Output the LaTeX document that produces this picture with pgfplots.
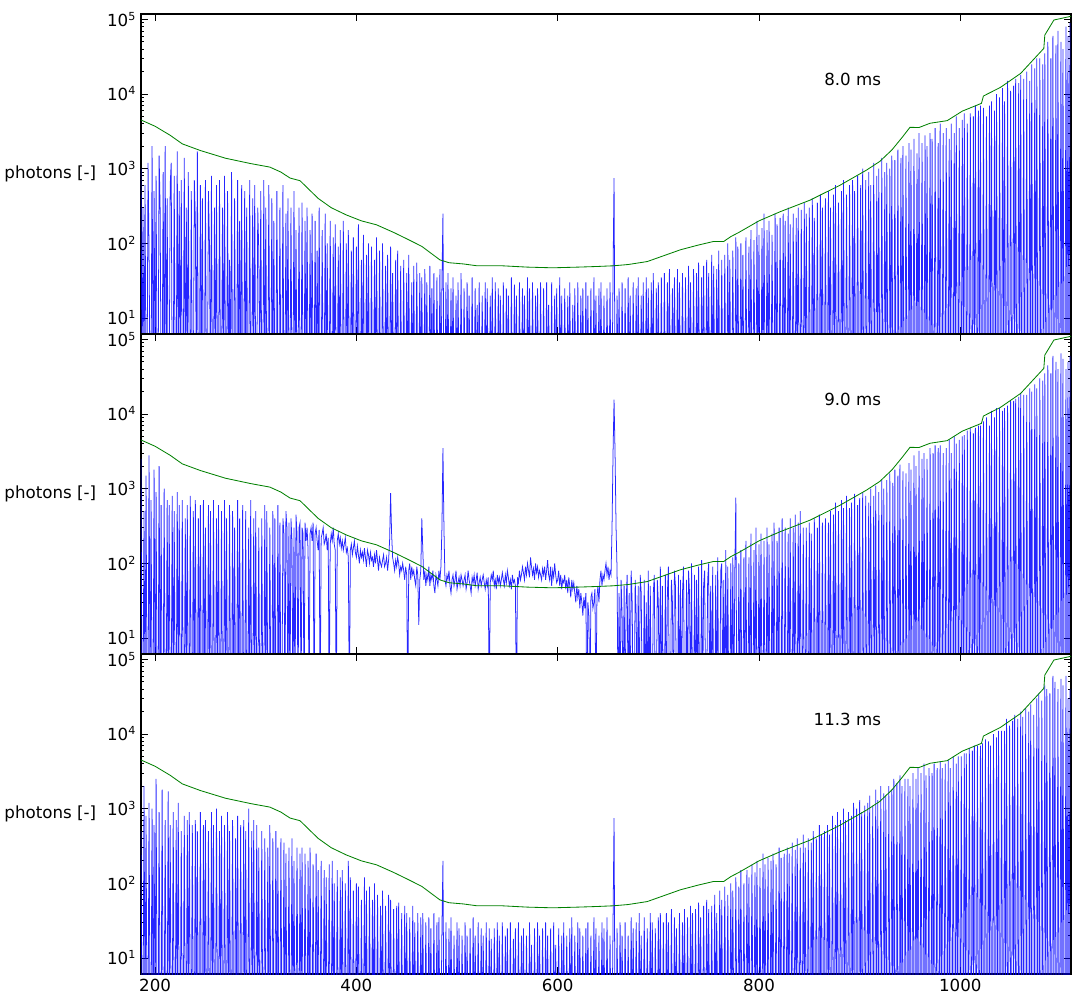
\documentclass[border=0pt]{standalone}
\usepackage{pgfplots}
\usepackage{pgfplotstable}
\pgfplotsset{compat=1.18}
\usepackage{fontspec}
\setmainfont{DejaVu Sans}

\definecolor{mgreen}{RGB}{0,128,0}

\pgfplotstableread{
x y
186 4490
200 3700
215 2800
227 2150
245 1750
270 1380
295 1170
314 1050
325 900
334 750
344 690
362 400
375 300
390 240
405 200
420 177
437 140
450 115
465 91
483 60
492 55
506 53
520 50
545 50
570 48
595 47
620 48
640 49
655 50
670 52
689 57
705 68
722 82
740 95
755 106
765 106
772 123
780 140
800 200
821 265
851 380
881 605
907 960
920 1250
932 1780
942 2600
950 3580
959 3560
970 4060
987 4400
1002 5900
1021 7500
1023 9400
1040 12300
1060 18900
1083 40900
1084 61700
1093 98000
1110 110000
}\tG

% 8.0 ms, x = 186 ... 1109 (1 nm)
\pgfplotstableread[row sep=\\]{y\\
1000\\ 1\\ 300\\ 1\\ 600\\ 1\\ 1\\ 1200\\ 80\\ 1\\ 1\\ 2000\\ 1\\ 500\\ 1\\ 800\\ 1\\ 1\\ 1500\\ 300\\
1\\ 1\\ 900\\ 1\\ 2000\\ 1\\ 400\\ 1\\ 1\\ 600\\ 1200\\ 1\\ 1\\ 800\\ 1\\ 1\\ 1700\\ 1\\ 500\\ 1\\
700\\ 1\\ 1\\ 1400\\ 1\\ 300\\ 1\\ 900\\ 1\\ 1\\ 500\\ 1\\ 1\\ 700\\ 200\\ 1\\ 1700\\ 1\\ 1\\ 600\\
1\\ 400\\ 1\\ 1\\ 700\\ 1\\ 1\\ 500\\ 100\\ 1\\ 800\\ 1\\ 1\\ 300\\ 1\\ 600\\ 1\\ 1\\ 700\\ 1\\
1\\ 300\\ 1\\ 800\\ 1\\ 1\\ 500\\ 1\\ 60\\ 1\\ 900\\ 1\\ 1\\ 400\\ 1\\ 1\\ 700\\ 1\\ 200\\ 1\\
600\\ 1\\ 1\\ 500\\ 1\\ 300\\ 1\\ 1\\ 700\\ 1\\ 1\\ 400\\ 1\\ 600\\ 1\\ 1\\ 300\\ 80\\ 1\\ 500\\
1\\ 1\\ 700\\ 1\\ 300\\ 1\\ 1\\ 600\\ 1\\ 1\\ 400\\ 1\\ 200\\ 1\\ 1\\ 500\\ 1\\ 1\\ 300\\ 1\\
1\\ 600\\ 1\\ 1\\ 250\\ 1\\ 400\\ 1\\ 1\\ 300\\ 1\\ 1\\ 500\\ 1\\ 150\\ 1\\ 1\\ 300\\ 1\\ 1\\
350\\ 1\\ 1\\ 200\\ 1\\ 300\\ 1\\ 1\\ 150\\ 1\\ 250\\ 1\\ 1\\ 200\\ 1\\ 80\\ 1\\ 300\\ 1\\ 1\\
150\\ 1\\ 1\\ 250\\ 1\\ 100\\ 1\\ 1\\ 200\\ 1\\ 1\\ 120\\ 1\\ 180\\ 1\\ 1\\ 90\\ 1\\ 150\\ 1\\
1\\ 200\\ 1\\ 1\\ 100\\ 1\\ 150\\ 1\\ 1\\ 80\\ 1\\ 120\\ 1\\ 1\\ 90\\ 1\\ 180\\ 1\\ 1\\ 60\\
1\\ 130\\ 1\\ 1\\ 70\\ 1\\ 100\\ 1\\ 1\\ 90\\ 1\\ 1\\ 60\\ 1\\ 120\\ 1\\ 1\\ 80\\ 1\\ 1\\
100\\ 1\\ 1\\ 50\\ 1\\ 70\\ 1\\ 1\\ 90\\ 1\\ 40\\ 1\\ 1\\ 60\\ 1\\ 80\\ 1\\ 1\\ 50\\ 1\\
1\\ 60\\ 1\\ 1\\ 40\\ 1\\ 70\\ 1\\ 1\\ 30\\ 1\\ 50\\ 1\\ 1\\ 55\\ 1\\ 1\\ 40\\ 1\\ 35\\
1\\ 1\\ 45\\ 1\\ 30\\ 1\\ 1\\ 50\\ 1\\ 25\\ 1\\ 40\\ 1\\ 1\\ 35\\ 1\\ 1\\ 45\\ 1\\ 30\\
250\\ 1\\ 1\\ 30\\ 1\\ 40\\ 1\\ 1\\ 25\\ 1\\ 35\\ 1\\ 1\\ 20\\ 1\\ 30\\ 1\\ 1\\ 40\\ 1\\
1\\ 25\\ 1\\ 1\\ 30\\ 1\\ 20\\ 1\\ 1\\ 35\\ 1\\ 1\\ 25\\ 1\\ 15\\ 1\\ 30\\ 1\\ 1\\ 20\\
1\\ 1\\ 30\\ 1\\ 25\\ 1\\ 1\\ 20\\ 1\\ 35\\ 1\\ 1\\ 30\\ 1\\ 1\\ 25\\ 1\\ 20\\ 1\\ 1\\
30\\ 1\\ 1\\ 25\\ 1\\ 20\\ 1\\ 1\\ 35\\ 1\\ 1\\ 28\\ 1\\ 20\\ 1\\ 1\\ 30\\ 1\\ 1\\ 25\\
1\\ 20\\ 1\\ 1\\ 35\\ 1\\ 25\\ 1\\ 1\\ 30\\ 1\\ 1\\ 20\\ 1\\ 25\\ 1\\ 1\\ 30\\ 1\\ 1\\
25\\ 1\\ 1\\ 30\\ 1\\ 15\\ 1\\ 1\\ 30\\ 1\\ 1\\ 20\\ 1\\ 25\\ 1\\ 1\\ 35\\ 1\\ 20\\ 1\\
1\\ 25\\ 1\\ 1\\ 20\\ 1\\ 30\\ 1\\ 1\\ 15\\ 1\\ 25\\ 1\\ 1\\ 30\\ 1\\ 1\\ 20\\ 1\\ 25\\
1\\ 1\\ 30\\ 1\\ 20\\ 1\\ 1\\ 25\\ 1\\ 1\\ 35\\ 1\\ 20\\ 1\\ 1\\ 25\\ 1\\ 30\\ 1\\ 1\\
20\\ 1\\ 1\\ 25\\ 1\\ 1\\ 30\\ 1\\ 1\\ 40\\ 750\\ 1\\ 1\\ 20\\ 1\\ 25\\ 1\\ 1\\ 30\\ 1\\
1\\ 25\\ 1\\ 1\\ 35\\ 1\\ 20\\ 1\\ 1\\ 30\\ 1\\ 1\\ 25\\ 1\\ 35\\ 1\\ 1\\ 20\\ 1\\ 30\\
1\\ 1\\ 35\\ 1\\ 25\\ 1\\ 1\\ 30\\ 1\\ 40\\ 1\\ 1\\ 25\\ 1\\ 30\\ 1\\ 1\\ 35\\ 1\\ 1\\
40\\ 1\\ 1\\ 30\\ 1\\ 45\\ 1\\ 1\\ 25\\ 1\\ 35\\ 1\\ 1\\ 45\\ 1\\ 30\\ 1\\ 1\\ 40\\ 1\\
1\\ 35\\ 1\\ 1\\ 50\\ 1\\ 30\\ 1\\ 1\\ 45\\ 1\\ 1\\ 40\\ 1\\ 55\\ 1\\ 1\\ 35\\ 1\\ 50\\
1\\ 1\\ 60\\ 1\\ 40\\ 1\\ 1\\ 70\\ 1\\ 50\\ 1\\ 1\\ 45\\ 1\\ 80\\ 1\\ 1\\ 60\\ 1\\ 1\\
70\\ 1\\ 1\\ 100\\ 1\\ 60\\ 1\\ 1\\ 80\\ 1\\ 1\\ 120\\ 1\\ 90\\ 1\\ 1\\ 100\\ 1\\ 70\\ 1\\
1\\ 120\\ 1\\ 1\\ 90\\ 1\\ 150\\ 1\\ 1\\ 110\\ 1\\ 1\\ 200\\ 1\\ 130\\ 1\\ 1\\ 160\\ 1\\ 250\\
1\\ 1\\ 150\\ 1\\ 200\\ 1\\ 1\\ 130\\ 1\\ 1\\ 250\\ 1\\ 180\\ 1\\ 1\\ 220\\ 1\\ 1\\ 250\\ 1\\
200\\ 1\\ 1\\ 300\\ 1\\ 180\\ 1\\ 1\\ 250\\ 1\\ 1\\ 220\\ 1\\ 300\\ 1\\ 1\\ 280\\ 1\\ 1\\ 350\\
1\\ 250\\ 1\\ 1\\ 300\\ 1\\ 1\\ 400\\ 1\\ 220\\ 1\\ 1\\ 350\\ 1\\ 1\\ 450\\ 1\\ 300\\ 1\\ 1\\
400\\ 1\\ 1\\ 500\\ 1\\ 300\\ 1\\ 1\\ 450\\ 1\\ 600\\ 1\\ 1\\ 350\\ 1\\ 1\\ 500\\ 1\\ 700\\ 1\\
1\\ 450\\ 1\\ 1\\ 600\\ 1\\ 1\\ 700\\ 1\\ 500\\ 1\\ 1\\ 800\\ 1\\ 1\\ 600\\ 1\\ 1000\\ 1\\ 1\\
700\\ 1\\ 1\\ 900\\ 1\\ 600\\ 1\\ 1\\ 1200\\ 1\\ 1\\ 800\\ 1\\ 1000\\ 1\\ 1\\ 1400\\ 1\\ 1\\ 900\\
1\\ 1200\\ 1\\ 1\\ 1000\\ 1\\ 1500\\ 1\\ 1\\ 1300\\ 1\\ 1\\ 1800\\ 1\\ 1\\ 1400\\ 1\\ 2000\\ 1\\ 1\\
1500\\ 1\\ 1\\ 2200\\ 1\\ 1800\\ 1\\ 1\\ 2500\\ 1\\ 1\\ 1600\\ 1\\ 3000\\ 1\\ 1\\ 2200\\ 1\\ 1\\ 2800\\
1\\ 2000\\ 1\\ 1\\ 3000\\ 1\\ 2500\\ 1\\ 1\\ 3500\\ 1\\ 1\\ 2200\\ 1\\ 4000\\ 1\\ 1\\ 3000\\ 1\\ 1\\
3500\\ 1\\ 1\\ 2500\\ 1\\ 4000\\ 1\\ 1\\ 3000\\ 1\\ 5000\\ 1\\ 1\\ 3500\\ 1\\ 1\\ 4500\\ 1\\ 5500\\ 1\\
1\\ 4000\\ 1\\ 1\\ 5500\\ 1\\ 1\\ 5000\\ 1\\ 7000\\ 1\\ 1\\ 6000\\ 1\\ 7000\\ 1\\ 1\\ 6500\\ 1\\ 1\\
5000\\ 1\\ 1\\ 7000\\ 1\\ 8000\\ 1\\ 1\\ 6000\\ 1\\ 10000\\ 1\\ 1\\ 9000\\ 1\\ 1\\ 12000\\ 1\\ 8000\\ 1\\
1\\ 15000\\ 1\\ 1\\ 11000\\ 1\\ 1\\ 13000\\ 1\\ 16000\\ 1\\ 1\\ 14000\\ 1\\ 18000\\ 1\\ 1\\ 16000\\ 1\\ 1\\
20000\\ 1\\ 1\\ 15000\\ 1\\ 25000\\ 1\\ 1\\ 22000\\ 1\\ 30000\\ 1\\ 1\\ 30000\\ 1\\ 1\\ 25000\\ 1\\ 35000\\ 1\\
1\\ 50000\\ 1\\ 1\\ 30000\\ 1\\ 60000\\ 1\\ 1\\ 45000\\ 1\\ 70000\\ 1\\ 1\\ 50000\\ 1\\ 40000\\ 1\\ 1\\ 80000\\
1\\ 60000\\ 1\\ 90000\\
}\tA

% 9.0 ms
\pgfplotstableread[row sep=\\]{y\\
2500\\ 1\\ 1\\ 500\\ 1\\ 1500\\ 1\\ 1\\ 2800\\ 1\\ 700\\ 1\\ 1\\ 1800\\ 1\\ 900\\ 1\\ 1\\ 2000\\ 1\\
600\\ 1\\ 1\\ 1000\\ 1\\ 1\\ 700\\ 1\\ 600\\ 1\\ 1\\ 800\\ 1\\ 500\\ 1\\ 1\\ 900\\ 1\\ 600\\ 1\\
1\\ 700\\ 1\\ 1\\ 400\\ 1\\ 600\\ 1\\ 1\\ 800\\ 1\\ 1\\ 500\\ 1\\ 700\\ 1\\ 1\\ 400\\ 1\\ 600\\
1\\ 1\\ 700\\ 1\\ 300\\ 1\\ 1\\ 600\\ 1\\ 500\\ 1\\ 1\\ 700\\ 1\\ 1\\ 400\\ 1\\ 600\\ 1\\ 1\\
500\\ 1\\ 1\\ 700\\ 1\\ 400\\ 1\\ 1\\ 600\\ 1\\ 1\\ 500\\ 1\\ 300\\ 1\\ 1\\ 700\\ 1\\ 400\\ 1\\
1\\ 600\\ 1\\ 1\\ 500\\ 1\\ 1\\ 300\\ 1\\ 700\\ 1\\ 1\\ 400\\ 1\\ 500\\ 1\\ 1\\ 300\\ 1\\ 1\\
400\\ 1\\ 1\\ 600\\ 1\\ 500\\ 1\\ 1\\ 300\\ 1\\ 1\\ 500\\ 1\\ 400\\ 1\\ 1\\ 600\\ 1\\ 350\\ 1\\
1\\ 400\\ 250\\ 1\\ 500\\ 300\\ 1\\ 350\\ 1\\ 400\\ 200\\ 1\\ 300\\ 1\\ 450\\ 250\\ 1\\ 300\\ 350\\ 1\\
300\\ 250\\ 1\\ 350\\ 200\\ 300\\ 150\\ 1\\ 250\\ 300\\ 200\\ 350\\ 1\\ 250\\ 300\\ 200\\ 150\\ 280\\ 1\\ 220\\
250\\ 300\\ 180\\ 200\\ 250\\ 150\\ 220\\ 1\\ 180\\ 250\\ 200\\ 300\\ 180\\ 150\\ 1\\ 200\\ 250\\ 180\\ 220\\ 160\\
200\\ 150\\ 180\\ 220\\ 140\\ 160\\ 120\\ 1\\ 150\\ 180\\ 130\\ 160\\ 200\\ 140\\ 120\\ 170\\ 130\\ 100\\ 150\\ 120\\
140\\ 110\\ 160\\ 120\\ 90\\ 150\\ 130\\ 100\\ 140\\ 110\\ 120\\ 90\\ 130\\ 100\\ 150\\ 110\\ 80\\ 120\\ 100\\ 90\\
110\\ 130\\ 90\\ 100\\ 120\\ 80\\ 110\\ 200\\ 870\\ 250\\ 120\\ 100\\ 80\\ 110\\ 90\\ 120\\ 100\\ 70\\ 90\\ 80\\
100\\ 80\\ 60\\ 90\\ 70\\ 1\\ 80\\ 100\\ 60\\ 90\\ 70\\ 80\\ 60\\ 50\\ 90\\ 70\\ 15\\ 60\\ 80\\ 400\\
150\\ 60\\ 80\\ 50\\ 70\\ 60\\ 90\\ 50\\ 70\\ 60\\ 80\\ 50\\ 40\\ 70\\ 60\\ 50\\ 80\\ 60\\ 90\\ 300\\
3500\\ 300\\ 60\\ 50\\ 70\\ 60\\ 80\\ 50\\ 40\\ 60\\ 70\\ 50\\ 60\\ 80\\ 45\\ 55\\ 65\\ 50\\ 70\\ 60\\
50\\ 60\\ 70\\ 45\\ 55\\ 80\\ 60\\ 50\\ 40\\ 65\\ 55\\ 70\\ 50\\ 60\\ 75\\ 45\\ 55\\ 65\\ 50\\ 60\\
70\\ 55\\ 45\\ 60\\ 50\\ 65\\ 1\\ 55\\ 70\\ 60\\ 80\\ 50\\ 60\\ 45\\ 70\\ 55\\ 65\\ 50\\ 60\\ 75\\
60\\ 50\\ 70\\ 55\\ 80\\ 65\\ 50\\ 60\\ 45\\ 70\\ 55\\ 60\\ 50\\ 1\\ 65\\ 55\\ 80\\ 60\\ 70\\ 90\\
75\\ 60\\ 90\\ 70\\ 100\\ 80\\ 65\\ 120\\ 90\\ 70\\ 85\\ 60\\ 100\\ 75\\ 90\\ 65\\ 80\\ 70\\ 60\\ 85\\
70\\ 90\\ 60\\ 80\\ 110\\ 70\\ 60\\ 90\\ 50\\ 80\\ 65\\ 100\\ 70\\ 55\\ 60\\ 80\\ 50\\ 70\\ 45\\ 60\\
55\\ 70\\ 45\\ 60\\ 40\\ 65\\ 50\\ 35\\ 60\\ 45\\ 55\\ 40\\ 30\\ 50\\ 35\\ 45\\ 25\\ 40\\ 30\\ 20\\
35\\ 25\\ 40\\ 1\\ 30\\ 20\\ 1\\ 35\\ 40\\ 25\\ 30\\ 45\\ 1\\ 35\\ 50\\ 30\\ 60\\ 80\\ 50\\ 70\\
60\\ 80\\ 100\\ 70\\ 90\\ 60\\ 80\\ 70\\ 300\\ 3000\\ 15600\\ 3000\\ 300\\ 80\\ 1\\ 40\\ 1\\ 60\\ 20\\ 1\\
50\\ 1\\ 30\\ 70\\ 1\\ 40\\ 1\\ 80\\ 30\\ 1\\ 1\\ 60\\ 20\\ 1\\ 50\\ 1\\ 70\\ 40\\ 1\\ 1\\
60\\ 1\\ 30\\ 1\\ 80\\ 1\\ 50\\ 1\\ 1\\ 40\\ 70\\ 1\\ 1\\ 60\\ 30\\ 1\\ 90\\ 1\\ 50\\ 1\\
1\\ 70\\ 1\\ 40\\ 90\\ 1\\ 1\\ 60\\ 30\\ 1\\ 80\\ 50\\ 1\\ 1\\ 70\\ 1\\ 60\\ 1\\ 40\\ 90\\
1\\ 1\\ 60\\ 1\\ 80\\ 40\\ 1\\ 100\\ 1\\ 1\\ 70\\ 1\\ 60\\ 1\\ 90\\ 1\\ 1\\ 110\\ 1\\ 50\\
80\\ 1\\ 1\\ 60\\ 100\\ 1\\ 50\\ 1\\ 90\\ 1\\ 1\\ 70\\ 1\\ 120\\ 1\\ 1\\ 80\\ 100\\ 1\\ 60\\
1\\ 150\\ 1\\ 90\\ 1\\ 1\\ 100\\ 1\\ 120\\ 1\\ 80\\ 760\\ 1\\ 1\\ 100\\ 1\\ 150\\ 1\\ 1\\ 120\\
1\\ 200\\ 1\\ 1\\ 120\\ 1\\ 250\\ 1\\ 1\\ 150\\ 1\\ 300\\ 1\\ 1\\ 180\\ 1\\ 250\\ 1\\ 1\\ 200\\
1\\ 1\\ 300\\ 1\\ 180\\ 1\\ 1\\ 250\\ 1\\ 350\\ 1\\ 1\\ 200\\ 1\\ 300\\ 1\\ 1\\ 400\\ 1\\ 1\\
300\\ 1\\ 1\\ 250\\ 1\\ 400\\ 1\\ 1\\ 300\\ 1\\ 450\\ 1\\ 1\\ 350\\ 1\\ 500\\ 1\\ 1\\ 300\\ 1\\
1\\ 300\\ 1\\ 1\\ 350\\ 1\\ 250\\ 1\\ 1\\ 400\\ 1\\ 1\\ 300\\ 1\\ 450\\ 1\\ 1\\ 350\\ 1\\ 1\\
400\\ 1\\ 1\\ 350\\ 1\\ 500\\ 1\\ 1\\ 450\\ 1\\ 650\\ 1\\ 1\\ 500\\ 1\\ 1\\ 700\\ 1\\ 550\\ 1\\
1\\ 800\\ 1\\ 1\\ 550\\ 1\\ 650\\ 1\\ 1\\ 850\\ 1\\ 1\\ 600\\ 1\\ 750\\ 1\\ 1\\ 900\\ 1\\ 1\\
800\\ 1\\ 1\\ 650\\ 1\\ 1000\\ 1\\ 1\\ 800\\ 1\\ 1100\\ 1\\ 1\\ 900\\ 1\\ 1\\ 1300\\ 1\\ 1000\\ 1\\
1\\ 1300\\ 1\\ 1\\ 1600\\ 1\\ 1\\ 1200\\ 1\\ 1800\\ 1\\ 1\\ 1500\\ 1\\ 2100\\ 1\\ 1\\ 1700\\ 1\\ 1\\
1600\\ 1\\ 1\\ 2200\\ 1\\ 1800\\ 1\\ 1\\ 2800\\ 1\\ 2000\\ 1\\ 1\\ 3200\\ 1\\ 1\\ 2500\\ 1\\ 3000\\ 1\\
1\\ 2500\\ 1\\ 1\\ 3500\\ 1\\ 1\\ 3000\\ 1\\ 3800\\ 1\\ 1\\ 3500\\ 1\\ 3800\\ 1\\ 1\\ 3000\\ 1\\ 1\\
3500\\ 1\\ 1\\ 4500\\ 1\\ 3000\\ 1\\ 1\\ 5000\\ 1\\ 4000\\ 1\\ 1\\ 4500\\ 1\\ 1\\ 5000\\ 1\\ 5200\\ 1\\
1\\ 6000\\ 1\\ 1\\ 6500\\ 1\\ 1\\ 5500\\ 1\\ 6500\\ 1\\ 1\\ 7000\\ 1\\ 7000\\ 1\\ 1\\ 8000\\ 1\\ 1\\
9000\\ 1\\ 1\\ 7000\\ 1\\ 11000\\ 1\\ 1\\ 9000\\ 1\\ 12000\\ 1\\ 1\\ 12000\\ 1\\ 1\\ 11000\\ 1\\ 12000\\ 1\\
1\\ 13000\\ 1\\ 1\\ 15000\\ 1\\ 1\\ 15000\\ 1\\ 16000\\ 1\\ 1\\ 17000\\ 1\\ 19000\\ 1\\ 1\\ 18000\\ 1\\ 1\\
18000\\ 1\\ 1\\ 22000\\ 1\\ 20000\\ 1\\ 1\\ 25000\\ 1\\ 22000\\ 1\\ 1\\ 30000\\ 1\\ 1\\ 28000\\ 1\\ 35000\\ 1\\
1\\ 45000\\ 1\\ 1\\ 35000\\ 1\\ 60000\\ 1\\ 1\\ 50000\\ 1\\ 40000\\ 1\\ 1\\ 65000\\ 1\\ 55000\\ 1\\ 1\\ 40000\\
1\\ 50000\\ 1\\ 60000\\
}\tB

% 11.3 ms
\pgfplotstableread[row sep=\\]{y\\
500\\ 1\\ 1\\ 2000\\ 1\\ 800\\ 1\\ 1\\ 1200\\ 1\\ 1\\ 1000\\ 1\\ 600\\ 1\\ 2500\\ 1\\ 1\\ 900\\ 1\\
1\\ 1800\\ 1\\ 1\\ 700\\ 1\\ 1\\ 1700\\ 1\\ 600\\ 1\\ 1\\ 900\\ 1\\ 1\\ 700\\ 1\\ 1200\\ 1\\ 1\\
500\\ 1\\ 1\\ 800\\ 1\\ 1\\ 700\\ 1\\ 900\\ 1\\ 1\\ 600\\ 1\\ 1\\ 700\\ 1\\ 500\\ 1\\ 1\\ 900\\
1\\ 1\\ 600\\ 1\\ 700\\ 1\\ 1\\ 500\\ 1\\ 1\\ 900\\ 1\\ 600\\ 1\\ 1\\ 1000\\ 1\\ 1\\ 500\\ 1\\
800\\ 1\\ 1\\ 600\\ 1\\ 1\\ 900\\ 1\\ 500\\ 1\\ 1\\ 700\\ 1\\ 1\\ 400\\ 1\\ 800\\ 1\\ 1\\ 600\\
1\\ 1\\ 700\\ 1\\ 500\\ 1\\ 1\\ 1000\\ 1\\ 1\\ 500\\ 1\\ 700\\ 1\\ 1\\ 600\\ 1\\ 300\\ 1\\ 1\\
500\\ 1\\ 1\\ 400\\ 1\\ 1\\ 300\\ 1\\ 600\\ 1\\ 1\\ 400\\ 1\\ 1\\ 500\\ 1\\ 300\\ 1\\ 1\\ 400\\
1\\ 1\\ 350\\ 1\\ 250\\ 1\\ 1\\ 300\\ 1\\ 1\\ 400\\ 1\\ 200\\ 1\\ 1\\ 300\\ 1\\ 1\\ 250\\ 1\\
300\\ 1\\ 1\\ 250\\ 1\\ 1\\ 200\\ 1\\ 300\\ 1\\ 1\\ 180\\ 1\\ 1\\ 250\\ 1\\ 150\\ 1\\ 1\\ 200\\
1\\ 1\\ 150\\ 1\\ 120\\ 1\\ 1\\ 180\\ 1\\ 1\\ 200\\ 1\\ 100\\ 1\\ 1\\ 150\\ 1\\ 1\\ 120\\ 1\\
150\\ 1\\ 1\\ 100\\ 1\\ 1\\ 200\\ 1\\ 120\\ 1\\ 1\\ 80\\ 1\\ 1\\ 100\\ 1\\ 90\\ 1\\ 1\\ 60\\
1\\ 1\\ 120\\ 1\\ 80\\ 1\\ 1\\ 90\\ 1\\ 1\\ 60\\ 1\\ 100\\ 1\\ 1\\ 70\\ 1\\ 1\\ 50\\ 1\\
80\\ 1\\ 1\\ 50\\ 1\\ 1\\ 70\\ 1\\ 60\\ 1\\ 1\\ 45\\ 1\\ 1\\ 50\\ 1\\ 55\\ 1\\ 1\\ 40\\
1\\ 1\\ 50\\ 1\\ 40\\ 1\\ 1\\ 35\\ 1\\ 1\\ 50\\ 1\\ 30\\ 1\\ 1\\ 40\\ 1\\ 1\\ 35\\ 1\\
40\\ 1\\ 1\\ 30\\ 1\\ 1\\ 35\\ 1\\ 25\\ 1\\ 1\\ 40\\ 1\\ 1\\ 30\\ 1\\ 35\\ 1\\ 1\\ 25\\
200\\ 1\\ 1\\ 30\\ 1\\ 1\\ 25\\ 1\\ 35\\ 1\\ 1\\ 20\\ 1\\ 1\\ 30\\ 1\\ 25\\ 1\\ 1\\ 20\\
1\\ 1\\ 30\\ 1\\ 20\\ 1\\ 1\\ 25\\ 1\\ 1\\ 35\\ 1\\ 20\\ 1\\ 1\\ 30\\ 1\\ 1\\ 25\\ 1\\
20\\ 1\\ 1\\ 30\\ 1\\ 1\\ 25\\ 1\\ 18\\ 1\\ 1\\ 25\\ 1\\ 1\\ 30\\ 1\\ 20\\ 1\\ 1\\ 30\\
1\\ 1\\ 20\\ 1\\ 25\\ 1\\ 1\\ 30\\ 1\\ 1\\ 18\\ 1\\ 25\\ 1\\ 1\\ 30\\ 1\\ 1\\ 20\\ 1\\
25\\ 1\\ 1\\ 20\\ 1\\ 1\\ 30\\ 1\\ 15\\ 1\\ 1\\ 25\\ 1\\ 1\\ 30\\ 1\\ 20\\ 1\\ 1\\ 25\\
1\\ 1\\ 30\\ 1\\ 20\\ 1\\ 1\\ 25\\ 1\\ 1\\ 30\\ 1\\ 15\\ 1\\ 1\\ 25\\ 1\\ 1\\ 20\\ 1\\
30\\ 1\\ 1\\ 20\\ 1\\ 1\\ 25\\ 1\\ 35\\ 1\\ 1\\ 20\\ 1\\ 1\\ 30\\ 1\\ 25\\ 1\\ 1\\ 20\\
1\\ 1\\ 25\\ 1\\ 30\\ 1\\ 1\\ 20\\ 1\\ 1\\ 35\\ 1\\ 25\\ 1\\ 1\\ 20\\ 1\\ 1\\ 30\\ 1\\
25\\ 1\\ 1\\ 35\\ 1\\ 1\\ 20\\ 1\\ 1\\ 30\\ 750\\ 1\\ 1\\ 25\\ 1\\ 1\\ 30\\ 1\\ 20\\ 1\\
1\\ 30\\ 1\\ 1\\ 20\\ 1\\ 1\\ 35\\ 1\\ 25\\ 1\\ 1\\ 30\\ 1\\ 1\\ 40\\ 1\\ 20\\ 1\\ 1\\
35\\ 1\\ 1\\ 25\\ 1\\ 1\\ 40\\ 1\\ 30\\ 1\\ 1\\ 25\\ 1\\ 1\\ 35\\ 1\\ 40\\ 1\\ 1\\ 30\\
1\\ 1\\ 40\\ 1\\ 30\\ 1\\ 1\\ 45\\ 1\\ 1\\ 35\\ 1\\ 25\\ 1\\ 1\\ 40\\ 1\\ 1\\ 30\\ 1\\
45\\ 1\\ 1\\ 35\\ 1\\ 1\\ 50\\ 1\\ 40\\ 1\\ 1\\ 45\\ 1\\ 1\\ 55\\ 1\\ 35\\ 1\\ 1\\ 50\\
1\\ 1\\ 60\\ 1\\ 45\\ 1\\ 1\\ 50\\ 1\\ 1\\ 70\\ 1\\ 40\\ 1\\ 1\\ 80\\ 1\\ 60\\ 1\\ 1\\
90\\ 1\\ 1\\ 70\\ 1\\ 1\\ 100\\ 1\\ 80\\ 1\\ 1\\ 120\\ 1\\ 1\\ 90\\ 1\\ 150\\ 1\\ 1\\ 100\\
1\\ 1\\ 150\\ 1\\ 120\\ 1\\ 1\\ 180\\ 1\\ 1\\ 140\\ 1\\ 200\\ 1\\ 1\\ 160\\ 1\\ 1\\ 250\\ 1\\
180\\ 1\\ 1\\ 220\\ 1\\ 1\\ 200\\ 1\\ 250\\ 1\\ 1\\ 180\\ 1\\ 1\\ 300\\ 1\\ 220\\ 1\\ 1\\ 250\\
1\\ 1\\ 300\\ 1\\ 250\\ 1\\ 1\\ 350\\ 1\\ 1\\ 280\\ 1\\ 400\\ 1\\ 1\\ 300\\ 1\\ 1\\ 450\\ 1\\
300\\ 1\\ 1\\ 400\\ 1\\ 1\\ 350\\ 1\\ 500\\ 1\\ 1\\ 400\\ 1\\ 1\\ 600\\ 1\\ 450\\ 1\\ 1\\ 500\\
1\\ 1\\ 600\\ 1\\ 450\\ 1\\ 1\\ 800\\ 1\\ 1\\ 600\\ 1\\ 900\\ 1\\ 1\\ 700\\ 1\\ 1\\ 1000\\ 1\\
700\\ 1\\ 1\\ 900\\ 1\\ 1\\ 800\\ 1\\ 1200\\ 1\\ 1\\ 1000\\ 1\\ 1\\ 1300\\ 1\\ 900\\ 1\\ 1\\ 1100\\
1\\ 1\\ 1200\\ 1\\ 1500\\ 1\\ 1\\ 1100\\ 1\\ 1\\ 1800\\ 1\\ 1300\\ 1\\ 1\\ 2000\\ 1\\ 1\\ 1600\\ 1\\
1500\\ 1\\ 1\\ 2000\\ 1\\ 1\\ 1800\\ 1\\ 2500\\ 1\\ 1\\ 2200\\ 1\\ 1\\ 2800\\ 1\\ 2000\\ 1\\ 1\\ 2500\\
1\\ 1\\ 2500\\ 1\\ 2000\\ 1\\ 1\\ 3000\\ 1\\ 1\\ 2500\\ 1\\ 3500\\ 1\\ 1\\ 3000\\ 1\\ 1\\ 4000\\ 1\\
2800\\ 1\\ 1\\ 3500\\ 1\\ 1\\ 3000\\ 1\\ 4000\\ 1\\ 1\\ 3500\\ 1\\ 1\\ 4200\\ 1\\ 3500\\ 1\\ 1\\ 4000\\
1\\ 1\\ 4500\\ 1\\ 3500\\ 1\\ 1\\ 5000\\ 1\\ 1\\ 4000\\ 1\\ 5000\\ 1\\ 1\\ 5000\\ 1\\ 1\\ 5500\\ 1\\
5500\\ 1\\ 1\\ 6500\\ 1\\ 1\\ 6000\\ 1\\ 7000\\ 1\\ 1\\ 7000\\ 1\\ 1\\ 7000\\ 1\\ 7500\\ 1\\ 1\\ 8500\\
1\\ 1\\ 8000\\ 1\\ 7000\\ 1\\ 1\\ 10000\\ 1\\ 1\\ 9000\\ 1\\ 11000\\ 1\\ 1\\ 11000\\ 1\\ 1\\ 11000\\ 1\\
16000\\ 1\\ 1\\ 13000\\ 1\\ 1\\ 15000\\ 1\\ 18000\\ 1\\ 1\\ 16000\\ 1\\ 1\\ 20000\\ 1\\ 17000\\ 1\\ 1\\ 22000\\
1\\ 1\\ 20000\\ 1\\ 25000\\ 1\\ 1\\ 18000\\ 1\\ 1\\ 30000\\ 1\\ 35000\\ 1\\ 1\\ 28000\\ 1\\ 1\\ 45000\\ 1\\
40000\\ 1\\ 1\\ 35000\\ 1\\ 1\\ 60000\\ 1\\ 50000\\ 1\\ 1\\ 40000\\ 1\\ 1\\ 55000\\ 1\\ 45000\\ 1\\ 1\\ 60000\\
1\\ 30000\\ 1\\ 40000\\
}\tC

\pgfplotsset{
  every semilogy axis/.append style={
    width=669.6pt, height=230.4pt, scale only axis, anchor=north west,
    xmin=186, xmax=1110, ymin=6.1, ymax=1.18e5,
    xtick={200,400,600,800,1000},
    ytick={10,100,1000,10000,100000},
    yticklabels={10\textsuperscript{1},10\textsuperscript{2},10\textsuperscript{3},10\textsuperscript{4},10\textsuperscript{5}},
    tick align=inside, xtick pos=both, ytick pos=both,
    major tick length=5pt, minor tick length=2.5pt,
    tick style={black, line width=0.6pt},
    axis line style={line width=0.9pt},
    ticklabel style={font=\fontsize{12}{14}\selectfont},
    label style={font=\fontsize{12}{14}\selectfont},
    ylabel={photons [-]},
    ylabel style={rotate=-90, anchor=east, at={(axis description cs:-0.043,0.5)}},
  },
}

\begin{document}
\begin{tikzpicture}
\useasboundingbox (-101.52pt,10.08pt) rectangle (677.52pt,-712.8pt);
\begin{semilogyaxis}[at={(0pt,0pt)}, xticklabels={}]
  \addplot[draw=blue, draw opacity=0.85, line width=0.55pt, no markers] table[x expr=186+\coordindex, y=y] {\tA};
  \addplot[draw=mgreen, line width=0.6pt, no markers] table[x=x, y=y] {\tG};
  \node[anchor=east, font=\fontsize{12}{14}\selectfont] at (axis description cs:0.801,0.794) {8.0 ms};
\end{semilogyaxis}
\begin{semilogyaxis}[at={(0pt,-230.4pt)}, xticklabels={}]
  \addplot[draw=blue, draw opacity=0.85, line width=0.55pt, no markers] table[x expr=186+\coordindex, y=y] {\tB};
  \addplot[draw=mgreen, line width=0.6pt, no markers] table[x=x, y=y] {\tG};
  \node[anchor=east, font=\fontsize{12}{14}\selectfont] at (axis description cs:0.801,0.794) {9.0 ms};
\end{semilogyaxis}
\begin{semilogyaxis}[at={(0pt,-460.8pt)},
    /pgf/number format/1000 sep={},
    /pgf/number format/assume math mode=true]
  \addplot[draw=blue, draw opacity=0.85, line width=0.55pt, no markers] table[x expr=186+\coordindex, y=y] {\tC};
  \addplot[draw=mgreen, line width=0.6pt, no markers] table[x=x, y=y] {\tG};
  \node[anchor=east, font=\fontsize{12}{14}\selectfont] at (axis description cs:0.801,0.794) {11.3 ms};
\end{semilogyaxis}
\end{tikzpicture}
\end{document}
